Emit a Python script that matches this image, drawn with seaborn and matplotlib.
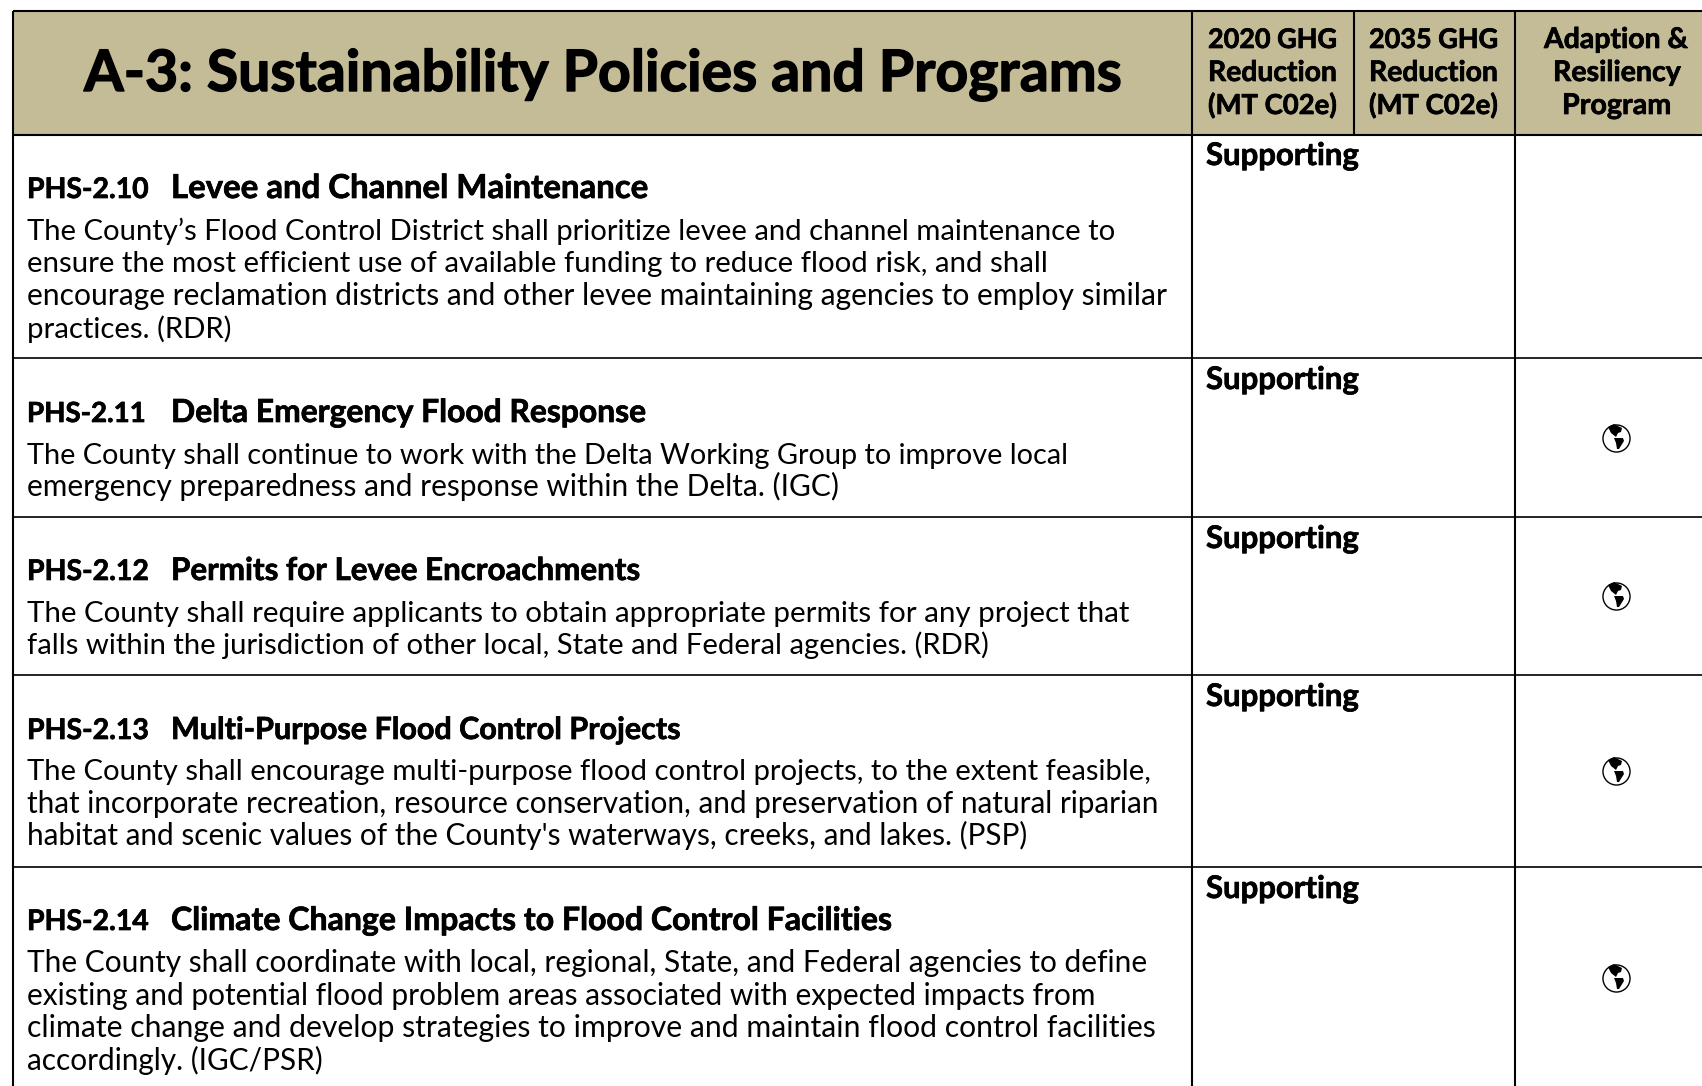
import matplotlib
matplotlib.use("Agg")
import matplotlib.pyplot as plt
import matplotlib.patheffects as pe
import pandas as pd
import seaborn as sns

# ---- content ----
TITLE = "A-3: Sustainability Policies and Programs"
HEAD_2020 = ["2020 GHG", "Reduction", "(MT C02e)"]
HEAD_2035 = ["2035 GHG", "Reduction", "(MT C02e)"]
HEAD_ADAPT = ["Adaption &", "Resiliency", "Program"]
CODES = ["PHS-2.10", "PHS-2.11", "PHS-2.12", "PHS-2.13", "PHS-2.14"]
NAMES = ["Levee and Channel Maintenance", "Delta Emergency Flood Response",
         "Permits for Levee Encroachments", "Multi-Purpose Flood Control Projects",
         "Climate Change Impacts to Flood Control Facilities"]
BODIES = [
    ["The County\u2019s Flood Control District shall prioritize levee and channel maintenance to",
     "ensure the most efficient use of available funding to reduce flood risk, and shall",
     "encourage reclamation districts and other levee maintaining agencies to employ similar",
     "practices. (RDR)"],
    ["The County shall continue to work with the Delta Working Group to improve local",
     "emergency preparedness and response within the Delta. (IGC)"],
    ["The County shall require applicants to obtain appropriate permits for any project that",
     "falls within the jurisdiction of other local, State and Federal agencies. (RDR)"],
    ["The County shall encourage multi-purpose flood control projects, to the extent feasible,",
     "that incorporate recreation, resource conservation, and preservation of natural riparian",
     "habitat and scenic values of the County's waterways, creeks, and lakes. (PSP)"],
    ["The County shall coordinate with local, regional, State, and Federal agencies to define",
     "existing and potential flood problem areas associated with expected impacts from",
     "climate change and develop strategies to improve and maintain flood control facilities",
     "accordingly. (IGC/PSR)"],
]
ROLE = ["Supporting"] * 5
HAS_GLOBE = [False, True, True, True, True]

# ---- layout (pixels) ----
W, H = 1702, 1086
LEFT, TOP, HEAD_BOT = 13, 11, 135
COL1, COL2, COL3 = 1192, 1354, 1515
ROW_LINES = [358, 517, 675, 867]
HEAD_BASE = [198, 422, 580, 739, 930]
CODE_R = [149, 146, 149, 149, 149]
NAME_R = [648, 646, 640, 681, 892]
BODY_BASE = [[240, 272, 305, 338], [464, 496], [622, 654], [780, 813, 845], [972, 1005, 1037, 1070]]
BODY_R = [[1112, 1045, 1163, 232], [1067, 838], [1124, 986], [1150, 1154, 1025], [1143, 1094, 1150, 322]]
SUPPORT_BASE = [165, 389, 548, 706, 898]
GLOBE_Y = [438, 596, 771, 978]
GLOBE_X = 1616
TAN = "#C4BC96"
REG = "Lato"

sns.set_theme(style="white", rc={"font.family": REG})
fig = plt.figure(figsize=(W / 100, H / 100), dpi=100)
ax = fig.add_axes([0, 0, 1, 1])
ax.set_xlim(0, W)
ax.set_ylim(H, 0)
ax.axis("off")
renderer = fig.canvas.get_renderer()


def fit(s, x0, x1, base, weight="normal", size=18.0, stroke=0.0):
    t = ax.text(x0, base, s, ha="left", va="baseline", fontsize=size,
                fontfamily=REG, fontweight=weight, color="black")
    w = t.get_window_extent(renderer).width
    t.set_fontsize(size * (x1 - x0) / w)
    if stroke:
        t.set_path_effects([pe.withStroke(linewidth=stroke, foreground="black")])
    return t


ax.fill_between([LEFT, W], TOP, HEAD_BOT, color=TAN, lw=0, zorder=0)
LW = 1.5
ax.plot([LEFT, W], [TOP, TOP], color="black", lw=LW, solid_capstyle="butt")
ax.plot([LEFT, W], [HEAD_BOT, HEAD_BOT], color="black", lw=LW, solid_capstyle="butt")
for y in ROW_LINES:
    ax.plot([LEFT, W], [y, y], color="black", lw=LW * 0.8, solid_capstyle="butt")
for x in (LEFT, COL1, COL3):
    ax.plot([x, x], [TOP, H], color="black", lw=LW, solid_capstyle="butt")
ax.plot([COL2, COL2], [TOP, HEAD_BOT], color="black", lw=LW, solid_capstyle="butt")

fit(TITLE, 84, 1121, 91, "bold", 40, stroke=1.0)

HB = [48, 81, 114]
for s, b in zip(HEAD_2020, HB):
    fit(s, 1208, 1337, b, "bold", 20, stroke=0.5)
for s, b in zip(HEAD_2035, HB):
    fit(s, 1369, 1498, b, "bold", 20, stroke=0.5)
for s, b, x0, x1 in zip(HEAD_ADAPT, HB, [1544, 1553, 1562], [1688, 1681, 1671]):
    fit(s, x0, x1, b, "bold", 20, stroke=0.5)

for i in range(5):
    fit(CODES[i], 27, CODE_R[i], HEAD_BASE[i], "bold", 20, stroke=0.5)
    fit(NAMES[i], 171, NAME_R[i], HEAD_BASE[i], "bold", 20, stroke=0.5)
    for s, b, r in zip(BODIES[i], BODY_BASE[i], BODY_R[i]):
        fit(s, 27, r, b, "normal", 18)
    fit(ROLE[i], 1206, 1359, SUPPORT_BASE[i], "bold", 20, stroke=0.5)

# globes
globes = pd.DataFrame({"x": [GLOBE_X] * sum(HAS_GLOBE), "y": GLOBE_Y})
sns.scatterplot(data=globes, x="x", y="y", ax=ax, s=380, facecolor="white",
                edgecolor="black", linewidth=1.0, legend=False, zorder=3)
NA = [(-8, -11), (-2, -14), (6, -10), (5, -6), (2, -5), (0, -1), (-5, -5)]
SA = [(-2, 0), (7, 0), (8, 3), (3, 11), (1, 11), (0, 5)]
for gy in GLOBE_Y:
    for shape in (NA, SA):
        ax.fill([GLOBE_X + a for a, _ in shape], [gy + b for _, b in shape], color="black", lw=0, zorder=4)
ax.set_xlim(0, W)
ax.set_ylim(H, 0)
ax.axis("off")
fig.savefig("out.png", dpi=100, facecolor="white")
